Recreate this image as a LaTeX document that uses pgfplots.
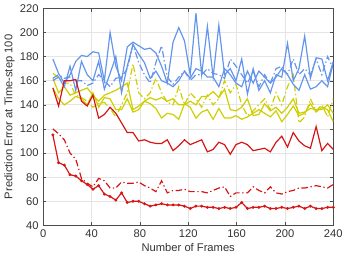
\documentclass[border=0pt]{standalone}
\usepackage{pgfplots}
\usepackage{pgfplotstable}
\pgfplotsset{compat=1.18}
\usepackage{fontspec}
\setmainfont{Liberation Sans}
\definecolor{cblue}{RGB}{100,149,237}
\definecolor{cyel}{RGB}{206,206,0}
\definecolor{cred}{RGB}{215,20,20}
\pgfplotstableread{
x r1 r2 r3 b1 b2 b3 y1 y2 y3
8.0 154 120 115 178 160 162 154 162 166
12.73 139 116 92 166 163 165 145 150 163
17.47 160 111 90 158 155 162 140 155 158
22.20 160 100 82 165 172 163 143 148 158
26.94 161 95 81 176 152 160 147 150 148
31.67 143 79 77 181 176 160 145 152 146
36.41 139 75 74 180 165 156 140 154 143
41.14 148 72 70 184 160 158 150 148 138
45.88 129 79 73 183 176 165 138 143 141
50.61 132 77 66 160 153 160 146 148 142
55.35 138 71 64 200 166 155 145 150 137
60.08 133 71 61 172 180 162 136 152 130
64.82 125 76 67 160 150 163 136 155 140
69.55 117 75 59 188 172 170 145 158 150
74.29 117 75 60 192 190 190 134 136 174
79.02 110 76 60 189 182 175 136 139 150
83.76 111 73 58 186 175 165 143 143 145
88.49 109 71 56 187 162 158 141 146 150
93.22 108 68 57 183 168 175 137 144 162
97.96 108 77 58 172 160 189 129 146 150
102.69 111 67 57 158 158 163 133 143 142
107.43 102 69 57 192 155 157 132 145 140
112.16 106 69 57 204 160 163 128 140 155
116.90 111 70 56 193 168 168 141 140 140
121.63 107 68 54 165 162 160 138 143 150
126.37 109 68 56 216 170 165 129 140 145
131.10 111 68 56 165 168 165 134 147 138
135.84 101 67 55 205 163 170 136 147 148
140.57 103 69 55 163 163 166 128 151 140
145.31 109 71 54 206 155 165 137 146 145
150.04 107 72 55 165 170 162 129 153 160
154.78 99 64 54 170 165 178 129 136 150
159.51 107 67 55 160 158 172 131 135 157
164.24 109 67 59 178 155 165 128 138 140
168.98 107 67 54 149 168 158 130 145 131
173.71 102 72 55 170 158 168 133 131 135
178.45 103 69 55 152 168 155 136 132 140
183.18 104 67 56 160 163 165 133 141 145
187.92 101 72 54 150 158 158 130 135 136
192.65 109 67 54 165 163 170 135 138 150
197.39 114 66 55 163 170 172 126 133 140
202.12 105 68 54 191 165 165 132 138 155
206.86 117 69 55 160 157 178 139 145 165
211.59 110 71 56 170 152 165 131 133 125
216.33 106 71 54 197 165 170 133 134 130
221.06 104 72 56 162 153 165 141 137 145
225.80 122 73 54 179 155 178 134 136 135
230.53 102 72 54 178 160 165 138 136 140
235.27 108 71 55 160 155 180 136 140 130
240.00 103 74 55 176 175 170 126 133 145
}\datatable
\begin{document}
\begin{tikzpicture}
\begin{axis}[
  scale only axis,
  width=220.5pt, height=165pt,
  xmin=0, xmax=240, ymin=40, ymax=220,
  xtick={0,40,80,120,160,200,240},
  ytick={40,60,80,100,120,140,160,180,200,220},
  grid=major,
  grid style={gray!20, line width=0.5pt},
  axis line style={black!70},
  tick align=inside,
  tick style={black!70},
  major tick length=2.5pt,
  font=\fontsize{8.5}{10}\selectfont,
  tick label style={font=\fontsize{8.5}{10}\selectfont, text=black!80},
  /pgf/number format/assume math mode=true,
  xlabel={Number of Frames},
  ylabel={Prediction Error at Time-step 100},
  label style={text=black!80},
  xlabel style={yshift=3pt},
  ylabel style={yshift=-3pt},
  every axis plot/.append style={line width=0.9pt},
  clip=true,
]
\addplot[cyel, no markers] table[x=x,y=y1] {\datatable};
\addplot[cyel, no markers] table[x=x,y=y2] {\datatable};
\addplot[cyel, no markers, dash pattern=on 5pt off 2pt on 1pt off 2pt] table[x=x,y=y3] {\datatable};
\addplot[cblue, no markers] table[x=x,y=b1] {\datatable};
\addplot[cblue, no markers] table[x=x,y=b2] {\datatable};
\addplot[cblue, no markers, dash pattern=on 5pt off 2pt on 1pt off 2pt] table[x=x,y=b3] {\datatable};
\addplot[cred, no markers] table[x=x,y=r1] {\datatable};
\addplot[cred, no markers, dash pattern=on 5pt off 2pt on 1pt off 2pt] table[x=x,y=r2] {\datatable};
\addplot[cred, mark=*, mark size=0.6pt] table[x=x,y=r3] {\datatable};
\end{axis}
\end{tikzpicture}
\end{document}
